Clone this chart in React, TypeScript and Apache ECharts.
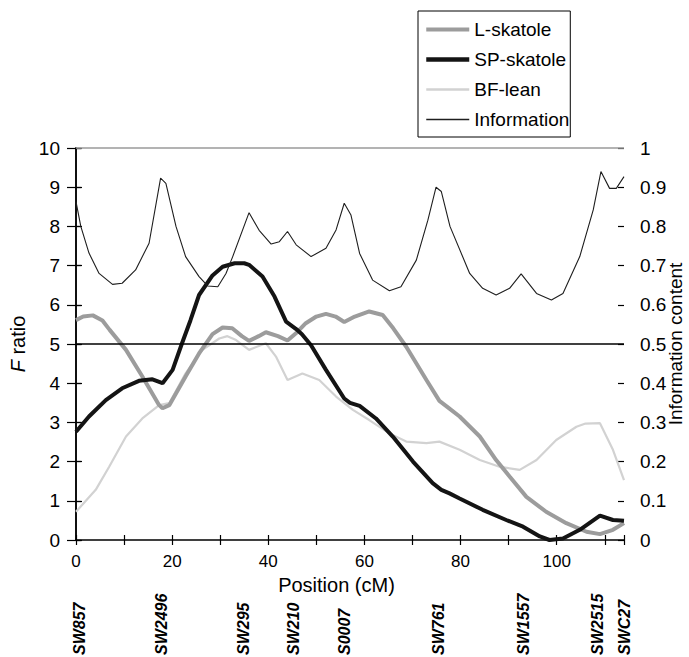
import React, { useEffect, useRef } from "react";
import * as echarts from "echarts";

// Position (cM) and F ratio values
const lSkatolePos = [0, 1.5, 3.5, 5.5, 7, 10.4, 13.8, 17.3, 18, 19.4, 22.8, 25.6, 28.4, 30.5, 32.5, 34.5, 36, 38, 39.5, 42, 44, 46, 47.8, 50, 52, 54, 55.8, 58, 61, 63.8, 66, 68.7, 72.9, 75.6, 77.7, 79.8, 84, 87.4, 90.2, 93.7, 97.8, 102, 106.2, 109, 111.7, 114];
const lSkatoleF = [5.61, 5.7, 5.73, 5.6, 5.36, 4.85, 4.17, 3.44, 3.36, 3.44, 4.17, 4.76, 5.25, 5.42, 5.4, 5.2, 5.08, 5.2, 5.3, 5.2, 5.09, 5.3, 5.53, 5.7, 5.77, 5.7, 5.56, 5.7, 5.83, 5.74, 5.4, 4.93, 4.08, 3.55, 3.35, 3.15, 2.64, 2.04, 1.62, 1.1, 0.72, 0.43, 0.21, 0.15, 0.26, 0.43];

const spSkatolePos = [0, 2.7, 6.2, 9.6, 13.1, 15.9, 18, 20.1, 22, 23.8, 25.6, 28.4, 30.5, 33, 35, 36, 38.8, 41.3, 43.7, 45.8, 47, 48.9, 52, 55.8, 57, 59, 62.4, 65.9, 70.1, 74.2, 76, 77.7, 79.8, 84.6, 89.5, 93, 96.5, 98.5, 101.3, 104.8, 109, 111.7, 114];
const spSkatoleF = [2.76, 3.15, 3.57, 3.87, 4.06, 4.1, 4.0, 4.34, 5.0, 5.6, 6.25, 6.75, 6.97, 7.06, 7.06, 7.02, 6.72, 6.21, 5.57, 5.38, 5.25, 4.97, 4.34, 3.61, 3.5, 3.42, 3.1, 2.64, 2.0, 1.45, 1.28, 1.19, 1.06, 0.77, 0.51, 0.34, 0.09, 0.0, 0.04, 0.26, 0.62, 0.51, 0.49];

const bfLeanPos = [0, 4.1, 6.9, 10.4, 13.8, 17.3, 19.4, 22.8, 26.3, 29.8, 31.5, 33.3, 36, 39.5, 41.6, 44, 47.1, 50.6, 54.1, 57.6, 61, 65.2, 68.7, 72.9, 75.6, 79.8, 84, 88.1, 92.3, 95.8, 99.9, 104.1, 106, 109, 111.7, 114];
const bfLeanF = [0.72, 1.28, 1.87, 2.64, 3.1, 3.44, 3.49, 4.25, 4.85, 5.14, 5.2, 5.1, 4.85, 5.02, 4.68, 4.08, 4.25, 4.08, 3.66, 3.32, 3.06, 2.72, 2.51, 2.47, 2.51, 2.3, 2.04, 1.87, 1.79, 2.04, 2.55, 2.89, 2.97, 2.98, 2.3, 1.53];

const infoPos = [0, 1, 2.7, 4.8, 7.6, 9.6, 12.4, 15.2, 17.6, 18.7, 20.8, 22.8, 25.6, 27.4, 29.5, 31.2, 32.6, 36, 38.1, 40.6, 42.3, 44, 45.8, 48.9, 52, 54.1, 55.8, 57.2, 59, 61.7, 65.2, 67.6, 70.8, 73.2, 74.9, 76, 77.8, 81.9, 84.6, 87.4, 90.2, 92.6, 95.8, 98.9, 101.3, 104.8, 107.6, 109.2, 111, 112.4, 114];
const infoContent = [0.863, 0.8, 0.732, 0.68, 0.652, 0.655, 0.689, 0.757, 0.923, 0.91, 0.8, 0.723, 0.672, 0.648, 0.646, 0.68, 0.723, 0.835, 0.79, 0.755, 0.761, 0.787, 0.753, 0.723, 0.744, 0.791, 0.859, 0.829, 0.731, 0.663, 0.636, 0.646, 0.714, 0.816, 0.9, 0.889, 0.8, 0.68, 0.642, 0.625, 0.642, 0.679, 0.629, 0.612, 0.629, 0.723, 0.842, 0.94, 0.897, 0.897, 0.927];

// Marker names and positions (cM)
const markerNames = ["SW857", "SW2496", "SW295", "SW210", "S0007", "SW761", "SW1557", "SW2515", "SWC27"];
const markerPos = [0.8, 17.8, 34.9, 45.3, 55.8, 75.5, 93, 108.5, 114];

// Reference lines (F ratio)
const thresholdF = 5;
const topF = 10;

const FONT = "'Liberation Sans', Arial, Helvetica, sans-serif";

export default function App() {
  const ref = useRef<HTMLDivElement>(null);
  useEffect(() => {
    const chart = echarts.init(ref.current!, null, { renderer: "svg" });
    const zip = (xs: number[], ys: number[]) => xs.map((x, i) => [x, ys[i]]);
    const black = "#000";
    chart.setOption({
      animation: false,
      backgroundColor: "#fff",
      textStyle: { fontFamily: FONT, color: black },
      grid: { left: 76, right: 65, top: 148, bottom: 117, outerBoundsMode: "none", containLabel: false },
      legend: {
        orient: "vertical",
        left: 418,
        top: 11,
        data: [
          { name: "L-skatole", lineStyle: { width: 4, color: "#9c9c9c" } },
          { name: "SP-skatole", lineStyle: { width: 4.5, color: "#141414" } },
          { name: "BF-lean", lineStyle: { width: 2.5, color: "#d2d2d2" } },
          { name: "Information", lineStyle: { width: 1.3, color: "#1e1e1e" } },
        ],
        lineStyle: { width: "inherit" },
        borderColor: black,
        borderWidth: 1,
        padding: [9, 1, 8, 6],
        itemWidth: 43,
        itemHeight: 20,
        itemGap: 11,
        itemStyle: { opacity: 0 },
        textStyle: { fontSize: 19, color: black, fontFamily: FONT },
      },
      xAxis: [
        {
          type: "value",
          min: 0,
          max: 114,
          interval: 10,
          axisLine: { lineStyle: { color: black, width: 1.5 } },
          axisTick: { length: 5, lineStyle: { color: black, width: 1.2 } },
          splitLine: { show: false },
          axisLabel: {
            formatter: (v: number) => (v % 20 === 0 ? String(v) : ""),
            margin: 13,
            fontSize: 17,
            color: black,
            fontFamily: FONT,
          },
          name: "Position (cM)",
          nameLocation: "middle",
          nameGap: 35,
          nameTextStyle: { fontSize: 20, color: black, fontFamily: FONT, padding: [0, 27, 0, 0] },
        },
        {
          type: "value",
          min: 0,
          max: 114,
          position: "bottom",
          axisLine: { show: false },
          axisTick: { show: false },
          splitLine: { show: false },
          axisLabel: {
            customValues: markerPos,
            formatter: (v: number) => {
              const i = markerPos.indexOf(v);
              return i >= 0 ? markerNames[i] : "";
            },
            rotate: 90,
            align: "left",
            verticalAlign: "middle",
            margin: 115,
            fontSize: 16,
            fontStyle: "italic",
            fontWeight: "bold",
            color: black,
            fontFamily: FONT,
          },
        },
        {
          type: "value",
          min: 0,
          max: 114,
          interval: 10,
          position: "bottom",
          axisLine: { show: false },
          axisTick: { show: true, inside: true, length: 5, lineStyle: { color: black, width: 1.2 } },
          axisLabel: { show: false },
          splitLine: { show: false },
        },
      ],
      yAxis: [
        {
          type: "value",
          min: 0,
          max: 10,
          interval: 1,
          position: "left",
          axisLine: { show: true, lineStyle: { color: black, width: 1.5 } },
          axisTick: { show: true, length: 9, lineStyle: { color: black, width: 1.2 } },
          splitLine: { show: false },
          axisLabel: { margin: 16, fontSize: 19, color: black, fontFamily: FONT },
          name: "{i|F} ratio",
          nameLocation: "middle",
          nameGap: 45,
          nameTextStyle: {
            fontSize: 20,
            color: black,
            fontFamily: FONT,
            rich: { i: { fontStyle: "italic", fontSize: 20, color: black, fontFamily: FONT } },
          },
        },
        {
          type: "value",
          min: 0,
          max: 1,
          interval: 0.1,
          position: "right",
          axisLine: { show: true, lineStyle: { color: black, width: 1.5 } },
          axisTick: { show: true, length: 6, lineStyle: { color: black, width: 1.2 } },
          splitLine: { show: false },
          axisLabel: {
            margin: 16,
            fontSize: 19,
            color: black,
            fontFamily: FONT,
            formatter: (v: number) => String(Math.round(v * 10) / 10),
          },
          name: "Information content",
          nameLocation: "middle",
          nameGap: 42,
          nameMoveOverlap: false,
          nameTextStyle: { fontSize: 19, color: black, fontFamily: FONT },
        },
        {
          type: "value",
          min: 0,
          max: 10,
          interval: 1,
          position: "left",
          axisLine: { show: false },
          axisTick: { show: true, inside: true, length: 5, lineStyle: { color: black, width: 1.2 } },
          axisLabel: { show: false },
          splitLine: { show: false },
        },
        {
          type: "value",
          min: 0,
          max: 1,
          interval: 0.1,
          position: "right",
          axisLine: { show: false },
          axisTick: { show: true, inside: true, length: 6, lineStyle: { color: black, width: 1.2 } },
          axisLabel: { show: false },
          splitLine: { show: false },
        },
      ],
      series: [
        {
          name: "BF-lean",
          type: "line",
          xAxisIndex: 0,
          yAxisIndex: 0,
          data: zip(bfLeanPos, bfLeanF),
          symbol: "none",
          z: 2,
          lineStyle: { color: "#d2d2d2", width: 2.2 },
          itemStyle: { color: "#d2d2d2" },
        },
        {
          name: "L-skatole",
          type: "line",
          xAxisIndex: 0,
          yAxisIndex: 0,
          data: zip(lSkatolePos, lSkatoleF),
          symbol: "none",
          z: 3,
          lineStyle: { color: "#9c9c9c", width: 4 },
          itemStyle: { color: "#9c9c9c" },
        },
        {
          name: "SP-skatole",
          type: "line",
          xAxisIndex: 0,
          yAxisIndex: 0,
          data: zip(spSkatolePos, spSkatoleF),
          symbol: "none",
          z: 4,
          lineStyle: { color: "#141414", width: 4 },
          itemStyle: { color: "#141414" },
          markLine: {
            silent: true,
            symbol: "none",
            label: { show: false },
            animation: false,
            data: [
              { yAxis: thresholdF, lineStyle: { color: black, width: 1.5, type: "solid" } },
              { yAxis: topF, lineStyle: { color: "#9a9a9a", width: 1.5, type: "solid" } },
            ],
          },
        },
        {
          name: "Information",
          type: "line",
          xAxisIndex: 0,
          yAxisIndex: 1,
          data: zip(infoPos, infoContent),
          symbol: "none",
          z: 5,
          lineStyle: { color: "#1e1e1e", width: 1.1 },
          itemStyle: { color: "#1e1e1e" },
        },
      ],
    });
    return () => chart.dispose();
  }, []);
  return (
    <div
      ref={ref}
      style={{ position: "fixed", left: 0, top: 0, width: 689, height: 657, background: "#fff" }}
    />
  );
}
